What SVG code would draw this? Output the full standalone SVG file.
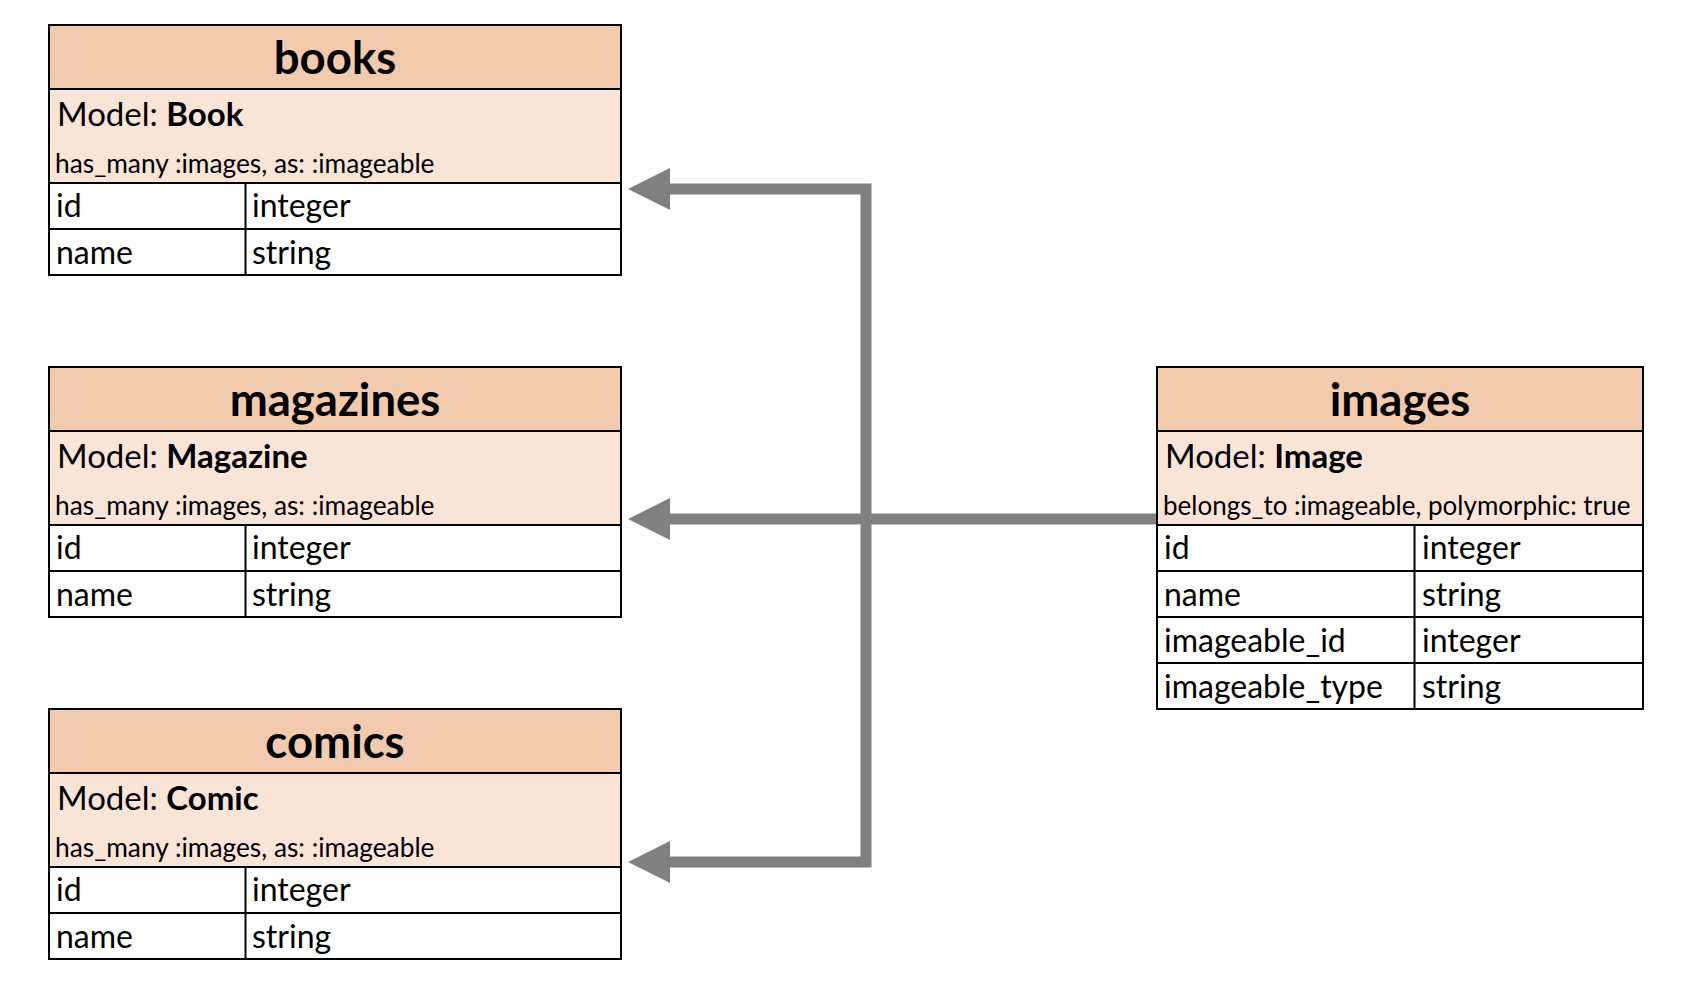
<svg xmlns="http://www.w3.org/2000/svg" width="1696" height="992" viewBox="0 0 1696 992">
<defs>
<style>
text{font-family:Lato,"Open Sans","Liberation Sans",sans-serif;fill:#000}
.title{font-size:45.5px;font-weight:bold;text-anchor:middle}
.model{font-size:33px}
.model tspan{font-weight:bold}
.assoc{font-size:26.3px}
.cell{font-size:32px}
.th{fill:#F2CBAE;stroke:#000;stroke-width:2}
.tm{fill:#F9E5D8;stroke:#000;stroke-width:2}
.tr{fill:#fff;stroke:#000;stroke-width:2}
.ln{stroke:#000;stroke-width:2}
.conn{fill:none;stroke:#808080;stroke-width:11;stroke-linejoin:miter}
.head{fill:#808080}
</style>
</defs>

<g id="connectors">
<path class="conn" d="M1157,519 L668,519" />
<path class="head" d="M628,519 L670,498 L670,540 Z"/>
<path class="conn" d="M866,519 L866,189 L668,189" />
<path class="head" d="M628,189 L670,168 L670,210 Z"/>
<path class="conn" d="M866,519 L866,862 L668,862" />
<path class="head" d="M628,862 L670,841 L670,883 Z"/>
</g>

<g id="books">
<rect class="th" x="49" y="25" width="572" height="64"/>
<rect class="tm" x="49" y="89" width="572" height="94"/>
<rect class="tr" x="49" y="183" width="572" height="46"/>
<rect class="tr" x="49" y="229" width="572" height="46"/>
<line class="ln" x1="245.5" y1="183" x2="245.5" y2="275"/>
<text class="title" x="335" y="74">books</text>
<text class="model" x="57" y="126">Model: <tspan>Book</tspan></text>
<text class="assoc" x="55" y="173">has_many :images, as: :imageable</text>
<text class="cell" x="56" y="217">id</text>
<text class="cell" x="252" y="217">integer</text>
<text class="cell" x="56" y="264">name</text>
<text class="cell" x="252" y="264">string</text>
</g>

<g id="magazines">
<rect class="th" x="49" y="367" width="572" height="64"/>
<rect class="tm" x="49" y="431" width="572" height="94"/>
<rect class="tr" x="49" y="525" width="572" height="46"/>
<rect class="tr" x="49" y="571" width="572" height="46"/>
<line class="ln" x1="245.5" y1="525" x2="245.5" y2="617"/>
<text class="title" x="335" y="416">magazines</text>
<text class="model" x="57" y="468">Model: <tspan>Magazine</tspan></text>
<text class="assoc" x="55" y="515">has_many :images, as: :imageable</text>
<text class="cell" x="56" y="559">id</text>
<text class="cell" x="252" y="559">integer</text>
<text class="cell" x="56" y="606">name</text>
<text class="cell" x="252" y="606">string</text>
</g>

<g id="comics">
<rect class="th" x="49" y="709" width="572" height="64"/>
<rect class="tm" x="49" y="773" width="572" height="94"/>
<rect class="tr" x="49" y="867" width="572" height="46"/>
<rect class="tr" x="49" y="913" width="572" height="46"/>
<line class="ln" x1="245.5" y1="867" x2="245.5" y2="959"/>
<text class="title" x="335" y="758">comics</text>
<text class="model" x="57" y="810">Model: <tspan>Comic</tspan></text>
<text class="assoc" x="55" y="857">has_many :images, as: :imageable</text>
<text class="cell" x="56" y="901">id</text>
<text class="cell" x="252" y="901">integer</text>
<text class="cell" x="56" y="948">name</text>
<text class="cell" x="252" y="948">string</text>
</g>

<g id="images">
<rect class="th" x="1157" y="367" width="486" height="64"/>
<rect class="tm" x="1157" y="431" width="486" height="94"/>
<rect class="tr" x="1157" y="525" width="486" height="46"/>
<rect class="tr" x="1157" y="571" width="486" height="46"/>
<rect class="tr" x="1157" y="617" width="486" height="46"/>
<rect class="tr" x="1157" y="663" width="486" height="46"/>
<line class="ln" x1="1414.5" y1="525" x2="1414.5" y2="709"/>
<text class="title" x="1400" y="416">images</text>
<text class="model" x="1165" y="468">Model: <tspan>Image</tspan></text>
<text class="assoc" x="1163" y="515" style="font-size:26px">belongs_to :imageable, polymorphic: true</text>
<text class="cell" x="1164" y="559">id</text>
<text class="cell" x="1422" y="559">integer</text>
<text class="cell" x="1164" y="606">name</text>
<text class="cell" x="1422" y="606">string</text>
<text class="cell" x="1164" y="652">imageable_id</text>
<text class="cell" x="1422" y="652">integer</text>
<text class="cell" x="1164" y="698">imageable_type</text>
<text class="cell" x="1422" y="698">string</text>
</g>
</svg>
